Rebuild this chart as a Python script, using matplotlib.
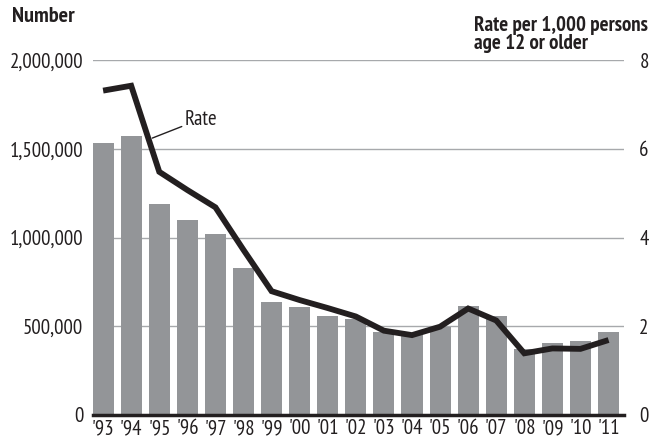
import numpy as np
import matplotlib
matplotlib.use('Agg')
import matplotlib.pyplot as plt

# data
years = ["'93", "'94", "'95", "'96", "'97", "'98", "'99", "'00", "'01", "'02",
         "'03", "'04", "'05", "'06", "'07", "'08", "'09", "'10", "'11"]
number = [1530000, 1570000, 1190000, 1100000, 1020000, 830000, 637000, 610000, 559000, 539000,
          467000, 450000, 497000, 614000, 557000, 373000, 408000, 417000, 465000]
rate = [7.31, 7.42, 5.48, 5.07, 4.68, 3.72, 2.79, 2.59, 2.41, 2.22,
        1.90, 1.80, 1.99, 2.40, 2.13, 1.39, 1.50, 1.49, 1.69]
left_ticks = [0, 500000, 1000000, 1500000, 2000000]
left_labels = ['0', '500,000', '1,000,000', '1,500,000', '2,000,000']
right_ticks = [0, 2, 4, 6, 8]
right_labels = ['0', '2', '4', '6', '8']

plt.rcParams['font.family'] = ['PT Sans Narrow', 'DejaVu Sans']

fig = plt.figure(figsize=(6.57, 4.42), dpi=100)
ax = fig.add_axes([93/657, 1-415/442, (624-93)/657, (415-60)/442])
x = np.arange(len(years))

ax.bar(x, number, width=0.75, color='#939598', zorder=2)
ax.set_ylim(0, 2000000)
ax.set_xlim(-0.36, 18.55)
ax.set_yticks(left_ticks)
ax.set_yticklabels(left_labels)
ax.set_xticks(x)
ax.set_xticklabels(years)
ax.yaxis.grid(True, color='#a7a9ac', linewidth=1.0, zorder=0)
ax.set_axisbelow(True)
for s in ['top', 'right', 'left']:
    ax.spines[s].set_visible(False)
ax.spines['bottom'].set_linewidth(2.5)
ax.spines['bottom'].set_color('#231f20')
ax.spines['bottom'].set_zorder(5)
ax.tick_params(axis='both', length=0, labelsize=15, colors='#231f20')
ax.tick_params(axis='y', pad=7)
ax.tick_params(axis='x', pad=3)

ax2 = ax.twinx()
ax2.plot(x, rate, color='#231f20', linewidth=4.2, solid_capstyle='butt', solid_joinstyle='miter')
ax2.set_ylim(0, 8)
ax2.set_yticks(right_ticks)
ax2.set_yticklabels(right_labels)
for s in ax2.spines.values():
    s.set_visible(False)
ax2.tick_params(axis='y', length=0, labelsize=15, pad=11, colors='#231f20')

ax2.annotate('Rate', xy=(1.75, 6.24), xytext=(2.9, 6.67), fontsize=15,
             va='center', ha='left', color='#231f20',
             arrowprops=dict(arrowstyle='-', color='#231f20', linewidth=1.0, shrinkA=0, shrinkB=0))

fig.text(12/657, 1-17/442, 'Number', fontsize=16, fontweight='bold', va='center', ha='left', color='#231f20')
fig.text(648/657, 1-53/442, 'Rate per 1,000 persons\nage 12 or older', fontsize=15,
         fontweight='bold', va='bottom', ha='right', multialignment='left',
         linespacing=0.95, color='#231f20')

fig.savefig('out.png', dpi=100)
